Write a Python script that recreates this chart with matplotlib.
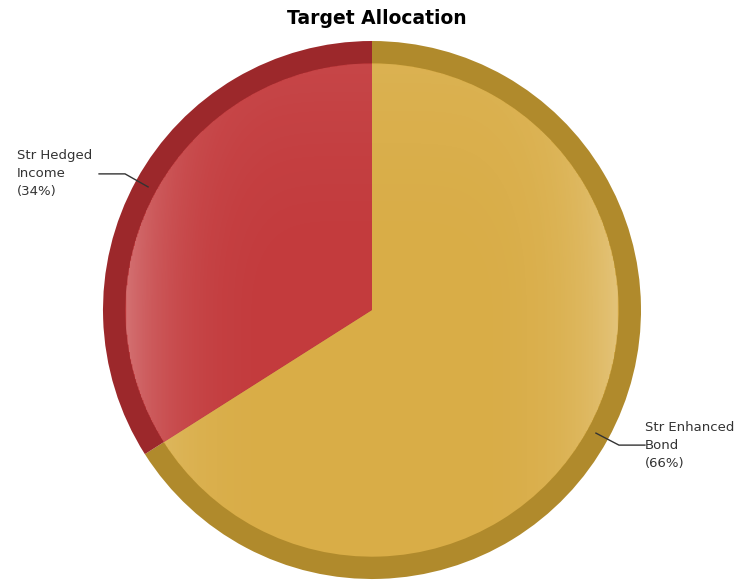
import numpy as np
import matplotlib.pyplot as plt

labels = ["Str Enhanced\nBond\n(66%)", "Str Hedged\nIncome\n(34%)"]
values = [66, 34]
rim_colors = ["#b08a2c", "#9c282b"]
inner_colors = ["#d9ad47", "#c33b3d"]

W, H = 753, 581
cx, cy, r = 372, H - 310, 269

fig = plt.figure(figsize=(W / 100, H / 100), dpi=100)
ax = fig.add_axes([0, 0, 1, 1])
ax.set_xlim(0, W)
ax.set_ylim(0, H)
ax.set_aspect("equal")
ax.axis("off")

# outer darker rim
wedges, _ = ax.pie(values, colors=rim_colors, startangle=90, counterclock=False,
                   radius=r, center=(cx, cy), frame=True)
# inner lighter face
ax.pie(values, colors=inner_colors, startangle=90, counterclock=False,
       radius=r * 0.917, center=(cx, cy), frame=True,
       wedgeprops=dict(linewidth=0))

# glossy sheen toward left/right edges, light spot in the middle
n = 400
xs = np.linspace(-1, 1, n)
X, Y = np.meshgrid(xs, xs)
D = np.sqrt(X ** 2 + Y ** 2)
sheen = np.zeros((n, n, 4))
sheen[..., :3] = 1.0
alpha = 0.28 * np.clip(np.abs(X), 0, 1) ** 5 + 0.06 * np.clip(Y, 0, 1) ** 2
sheen[..., 3] = np.where(D <= 1, alpha, 0)
ri = r * 0.917
im = ax.imshow(sheen, extent=(cx - ri, cx + ri, cy - ri, cy + ri), origin="lower", zorder=3)
circ = plt.Circle((cx, cy), ri, transform=ax.transData, fill=False, lw=0)
ax.add_patch(circ)
im.set_clip_path(circ)

# labels with elbow leader lines
for w, lab in zip(wedges, labels):
    ang = np.deg2rad((w.theta1 + w.theta2) / 2)
    x0 = cx + 0.95 * r * np.cos(ang)
    y0 = cy + 0.95 * r * np.sin(ang)
    side = 1 if np.cos(ang) > 0 else -1
    x1 = x0 + 23 * side
    y1 = y0 + (-12 if side > 0 else 13)
    x2 = x1 + 26 * side
    ax.plot([x0, x1, x2], [y0, y1, y1], color="#333333", lw=1.0, zorder=4)
    tx = x2 if side > 0 else 17
    ax.text(tx, y1, lab, ha="left", va="center", fontsize=9.5,
            color="#333333", linespacing=1.5, zorder=4)

fig.text(0.5, 1 - 18 / H, "Target Allocation", ha="center", va="center",
         fontsize=13.5, fontweight="bold")
fig.savefig("out.png", dpi=100)
